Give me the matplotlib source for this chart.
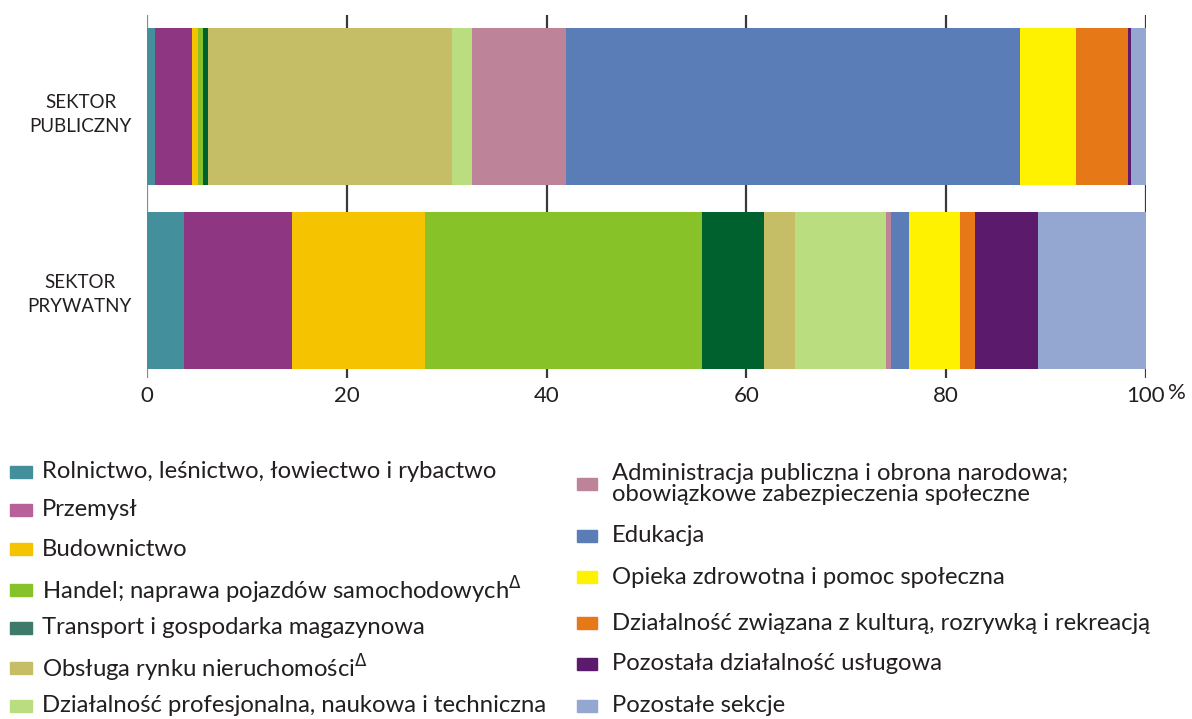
import matplotlib
matplotlib.use("Agg")
import matplotlib.pyplot as plt
from matplotlib.patches import Rectangle

plt.rcParams['font.family'] = ['Lato', 'DejaVu Sans']

sectors = ['SEKTOR\nPRYWATNY', 'SEKTOR\nPUBLICZNY']
categories = [
    'Rolnictwo, leśnictwo, łowiectwo i rybactwo',
    'Przemysł',
    'Budownictwo',
    'Handel; naprawa pojazdów samochodowych$^{\\Delta}$',
    'Transport i gospodarka magazynowa',
    'Obsługa rynku nieruchomości$^{\\Delta}$',
    'Działalność profesjonalna, naukowa i techniczna',
    'Administracja publiczna i obrona narodowa;\nobowiązkowe zabezpieczenia społeczne',
    'Edukacja',
    'Opieka zdrowotna i pomoc społeczna',
    'Działalność związana z kulturą, rozrywką i rekreacją',
    'Pozostała działalność usługowa',
    'Pozostałe sekcje',
]
publiczny = [0.8, 3.7, 0.6, 0.5, 0.5, 24.4, 2.0, 9.4, 45.5, 5.6, 5.2, 0.3, 1.5]
prywatny = [3.7, 10.8, 13.3, 27.8, 6.2, 3.1, 9.1, 0.5, 1.8, 5.1, 1.5, 6.3, 10.8]
xticks = [0, 20, 40, 60, 80, 100]

bar_colors = ['#438f9b', '#8f3683', '#f6c300', '#86c228', '#00612e', '#c5be67',
              '#badd7f', '#bc8399', '#5a7db8', '#fff200', '#e67817', '#5b1a6b', '#94a7d0']
legend_colors = ['#438f9b', '#b8609a', '#f6c300', '#86c228', '#3e7a6a', '#c5be67',
                 '#badd7f', '#bc8399', '#5a7db8', '#fff200', '#e67817', '#5b1a6b', '#94a7d0']

W, H = 1192, 719
fig = plt.figure(figsize=(W / 100, H / 100), dpi=100)
ax = fig.add_axes([147 / W, 1 - 378 / H, (1146 - 147) / W, (378 - 15) / H])

txt = '#231f20'
left_pub = 0
left_pri = 0
for i in range(len(categories)):
    ax.barh(1, publiczny[i], left=left_pub, height=0.853, color=bar_colors[i], zorder=2)
    ax.barh(0, prywatny[i], left=left_pri, height=0.853, color=bar_colors[i], zorder=2)
    left_pub += publiczny[i]
    left_pri += prywatny[i]

for x in xticks:
    ax.axvline(x, color='#3a3a3a' if x else '#888888', lw=1.6, zorder=1)

ax.set_xlim(0, 100)
ax.set_ylim(-0.4755, 1.497)
for s in ax.spines.values():
    s.set_visible(False)
ax.set_xticks(xticks)
ax.set_xticklabels([str(x) for x in xticks])
ax.tick_params(axis='x', length=0, pad=6, labelsize=16, colors=txt)
ax.set_yticks([])

# sector labels sit a bit below the bar centres in the original
label_y = [0 - 4 / 184, 1 - 8 / 184]
for lab, y in zip(sectors, label_y):
    ax.text(-15 / 999, y, lab, transform=ax.get_yaxis_transform(), fontsize=13.5,
            color=txt, ha='right', va='center', multialignment='center', linespacing=1.55)
fig.text(1168 / W, 1 - 393 / H, '%', fontsize=16, color=txt, va='center', ha='left')

# legend, two columns drawn by hand
left_rows = [472, 510, 549, 590, 628, 668, 706]
right_rows = [484, 536, 577, 623, 664, 706]
for i, yc in enumerate(left_rows):
    fig.add_artist(Rectangle((10 / W, 1 - (yc + 6) / H), 22 / W, 12 / H,
                             color=legend_colors[i], transform=fig.transFigure))
    fig.text(42 / W, 1 - yc / H, categories[i], fontsize=17.2, color=txt, va='center')
for j, yc in enumerate(right_rows):
    i = j + len(left_rows)
    fig.add_artist(Rectangle((577 / W, 1 - (yc + 6) / H), 20 / W, 12 / H,
                             color=legend_colors[i], transform=fig.transFigure))
    fig.text(612 / W, 1 - yc / H, categories[i], fontsize=17.2, color=txt, va='center',
             linespacing=1.05)

fig.savefig('out.png', dpi=100)
